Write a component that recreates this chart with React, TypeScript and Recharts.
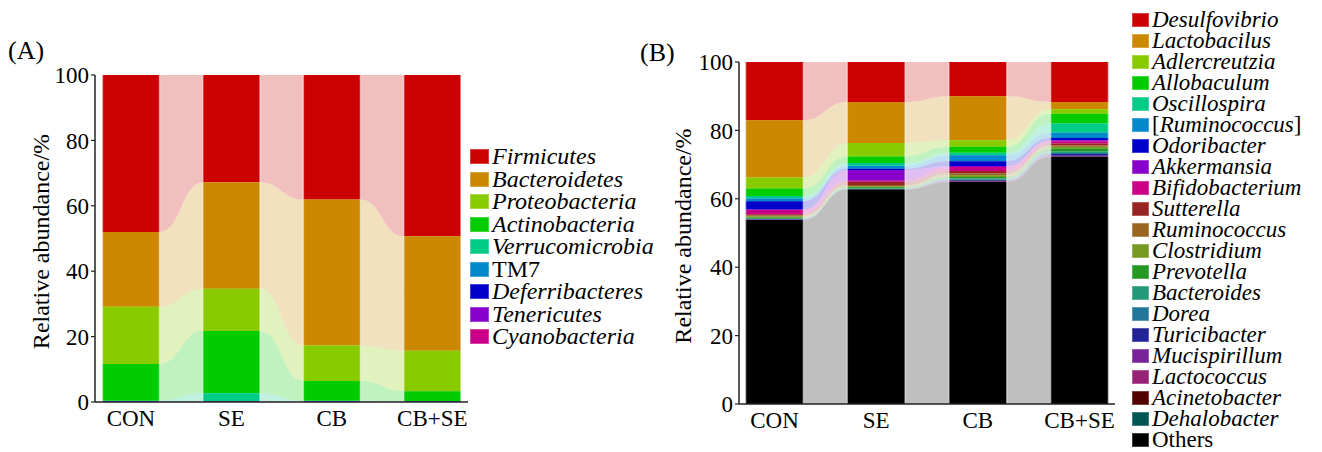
import { ComposedChart, Area, XAxis, YAxis, ReferenceLine, Label } from "recharts";

const groups = ["CON", "SE", "CB", "CB+SE"];

// (A) phylum level, legend order (top of stack first), %
const phyla = [
  "Firmicutes", "Bacteroidetes", "Proteobacteria", "Actinobacteria", "Verrucomicrobia",
  "TM7", "Deferribacteres", "Tenericutes", "Cyanobacteria",
];
const phylaColors = ["#cc0000", "#cc8800", "#88cc00", "#00cc00", "#00cc88", "#0088cc", "#0000cc", "#8800cc", "#cc0088"];
const phylaCON = [48.0, 22.9, 17.5, 11.2, 0.1, 0.0, 0.2, 0.1, 0.0];
const phylaSE = [32.8, 32.6, 12.9, 19.0, 2.4, 0.0, 0.1, 0.2, 0.0];
const phylaCB = [38.1, 44.6, 10.9, 6.0, 0.1, 0.0, 0.2, 0.1, 0.0];
const phylaCBSE = [49.3, 35.0, 12.4, 3.0, 0.1, 0.0, 0.1, 0.1, 0.0];

// (B) genus level
const genera = [
  "Desulfovibrio", "Lactobacilus", "Adlercreutzia", "Allobaculum", "Oscillospira", "[Ruminococcus]",
  "Odoribacter", "Akkermansia", "Bifidobacterium", "Sutterella", "Ruminococcus", "Clostridium",
  "Prevotella", "Bacteroides", "Dorea", "Turicibacter", "Mucispirillum", "Lactococcus",
  "Acinetobacter", "Dehalobacter", "Others",
];
const generaColors = [
  "#cc0000", "#cc8800", "#88cc00", "#00cc00", "#00cc88", "#0088cc", "#0000cc", "#8800cc", "#cc0088",
  "#992222", "#996622", "#779922", "#229922", "#229977", "#227799", "#222299", "#772299", "#992277",
  "#550000", "#005555", "#000000",
];
const generaCON = [17.0, 16.8, 3.2, 2.2, 0.7, 0.8, 2.4, 0.2, 1.2, 0.4, 0.3, 0.3, 0.3, 0.1, 0.1, 0.1, 0.05, 0.05, 0.0, 0.0, 53.8];
const generaSE = [11.7, 12.0, 3.9, 1.9, 0.8, 0.9, 0.4, 3.1, 0.3, 1.0, 0.3, 0.3, 0.4, 0.1, 0.1, 0.05, 0.05, 0.0, 0.0, 0.0, 62.7];
const generaCB = [10.0, 12.9, 1.9, 1.7, 0.8, 1.7, 1.4, 0.3, 1.2, 0.7, 0.5, 0.5, 0.5, 0.3, 0.2, 0.2, 0.1, 0.1, 0.0, 0.0, 65.0];
const generaCBSE = [11.7, 2.1, 1.3, 2.9, 2.7, 1.5, 0.7, 0.3, 0.6, 0.6, 0.4, 0.6, 0.8, 0.4, 0.3, 0.5, 0.2, 0.1, 0.0, 0.0, 72.3];

const HW = 0.284; // half bar width in category units
const FONT = "'Liberation Serif', 'Times New Roman', serif";
const AXIS = "#222";

// rows at the bar edges; a null row between bars breaks the bar areas
function buildRows(values: number[][]) {
  const n = values[0].length;
  const rows: any[] = [];
  values.forEach((vals, g) => {
    const ranges: [number, number][] = new Array(n);
    let acc = 0;
    for (let k = n - 1; k >= 0; k--) {
      ranges[k] = [acc, acc + vals[k]];
      acc += vals[k];
    }
    if (g > 0) {
      const gap: any = { x: g - 0.5 };
      for (let k = 0; k < n; k++) {
        gap["f" + k] = null;
        gap["b" + k] = null;
      }
      rows.push(gap);
    }
    for (const x of [g - HW, g + HW]) {
      const r: any = { x };
      for (let k = 0; k < n; k++) {
        r["f" + k] = ranges[k];
        r["b" + k] = ranges[k];
      }
      rows.push(r);
    }
  });
  return rows;
}

const tickStyle = { fontSize: 23, fill: "#000", fontFamily: FONT };

const FlowChart = ({ values, colors, width, height, margin, domain, labelDx }: any) => {
  const rows = buildRows(values);
  const edges = groups.flatMap((_, g) => [g - HW, g + HW]);
  return (
    <ComposedChart width={width} height={height} data={rows} margin={margin}>
      {colors.map((c: string, k: number) => (
        <Area
          key={"f" + k}
          dataKey={"f" + k}
          type="bumpX"
          fill={c}
          fillOpacity={0.25}
          stroke="none"
          connectNulls
          isAnimationActive={false}
        />
      ))}
      {colors.map((c: string, k: number) => (
        <Area
          key={"b" + k}
          dataKey={"b" + k}
          type="linear"
          fill={c}
          fillOpacity={1}
          stroke="none"
          isAnimationActive={false}
        />
      ))}
      {edges.map((x) => (
        <ReferenceLine key={x} x={x} stroke="#fff" strokeOpacity={0.45} strokeWidth={1.5} />
      ))}
      <XAxis
        type="number"
        dataKey="x"
        domain={domain}
        allowDataOverflow
        ticks={[0, 1, 2, 3]}
        interval={0}
        tickFormatter={(v: number) => groups[v]}
        tickLine={false}
        axisLine={{ stroke: AXIS, strokeWidth: 1.5 }}
        tick={tickStyle}
        tickMargin={2}
        height={30}
      />
      <YAxis
        type="number"
        domain={[0, 100]}
        ticks={[0, 20, 40, 60, 80, 100]}
        interval={0}
        width={60}
        tickSize={4}
        tickMargin={2}
        axisLine={{ stroke: AXIS, strokeWidth: 1.5 }}
        tickLine={{ stroke: AXIS, strokeWidth: 1.2 }}
        tick={tickStyle}
      >
        <Label
          content={(props: any) => {
            const vb = props.viewBox || {};
            const cx = vb.x + labelDx;
            const cy = vb.y + vb.height / 2 + 3;
            return (
              <text
                transform={`translate(${cx},${cy}) rotate(-90)`}
                textAnchor="middle"
                dominantBaseline="central"
                fontFamily={FONT}
                fontSize={24}
                fill="#000"
              >
                Relative abundance/%
              </text>
            );
          }}
        />
      </YAxis>
    </ComposedChart>
  );
};

const LegendName = ({ name }: { name: string }) => {
  if (name === "TM7" || name === "Others") return <span>{name}</span>;
  if (name.startsWith("[")) {
    return (
      <span>
        [<i>{name.slice(1, -1)}</i>]
      </span>
    );
  }
  return <i>{name}</i>;
};

const LegendList = ({ names, colors, left, top, rowH, sw, sh, fontSize }: any) => (
  <div style={{ position: "absolute", left, top, fontFamily: FONT, fontSize, color: "#000" }}>
    {names.map((name: string, i: number) => (
      <div key={name} style={{ display: "flex", alignItems: "center", height: rowH, whiteSpace: "nowrap" }}>
        <div
          style={{
            width: sw,
            height: sh,
            background: colors[i],
            marginRight: 3,
            boxShadow: "inset 0 0 0 1px rgba(255,255,255,0.25)",
            flex: "none",
          }}
        />
        <span style={{ lineHeight: `${rowH - 1}px` }}>
          <LegendName name={name} />
        </span>
      </div>
    ))}
  </div>
);

export default function App() {
  return (
    <div style={{ position: "absolute", left: 0, top: 0, width: 1322, height: 452, background: "#fff", overflow: "hidden" }}>
      <div style={{ position: "absolute", left: 0, top: 0 }}>
        <FlowChart
          values={[phylaCON, phylaSE, phylaCB, phylaCBSE]}
          colors={phylaColors}
          width={640}
          height={452}
          margin={{ top: 75, right: 172, bottom: 20, left: 35 }}
          domain={[-0.358, 3.355]}
          labelDx={6}
        />
      </div>
      <div style={{ position: "absolute", left: 640, top: 0 }}>
        <FlowChart
          values={[generaCON, generaSE, generaCB, generaCBSE]}
          colors={generaColors}
          width={500}
          height={452}
          margin={{ top: 62, right: 25, bottom: 18, left: 39 }}
          domain={[-0.349, 3.349]}
          labelDx={4}
        />
      </div>
      <div style={{ position: "absolute", left: 8, top: 38, fontFamily: FONT, fontSize: 26, lineHeight: 1 }}>(A)</div>
      <div style={{ position: "absolute", left: 640, top: 40, fontFamily: FONT, fontSize: 26, lineHeight: 1 }}>(B)</div>
      <LegendList names={phyla} colors={phylaColors} left={470} top={145.5} rowH={22.5} sw={19} sh={15} fontSize={24} />
      <LegendList names={genera} colors={generaColors} left={1132} top={9} rowH={21} sw={17} sh={14} fontSize={23} />
    </div>
  );
}
